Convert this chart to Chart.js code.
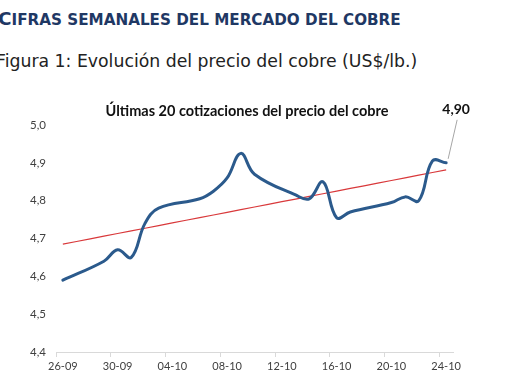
<!DOCTYPE html>
<html><head><meta charset="utf-8">
<script src="https://cdn.jsdelivr.net/npm/chart.js@4.4.1/dist/chart.umd.min.js"></script>
<style>
html,body{margin:0;padding:0;background:#fff;width:510px;height:382px;overflow:hidden;}
#h1{position:absolute;left:-2px;top:8px;font-family:"DejaVu Sans";font-weight:bold;color:#1f3864;font-size:15.2px;white-space:nowrap;}
#h1 .big{font-size:18.5px}
#h2{position:absolute;left:-4px;top:51px;font-family:"DejaVu Sans";font-size:17.3px;color:#222;white-space:nowrap;}
#wrap{position:absolute;left:0;top:0;width:510px;height:382px;}
</style></head><body>
<div id="h1"><span class="big">C</span>IFRAS SEMANALES DEL MERCADO DEL COBRE</div>
<div id="h2">Figura 1: Evolución del precio del cobre (US$/lb.)</div>
<div id="wrap"><canvas id="c" width="510" height="382"></canvas></div>
<script>
// Days from 26-09 to 24-10 (date axis); weekends have no quote
const dates = ['26-09','27-09','28-09','29-09','30-09','01-10','02-10','03-10','04-10','05-10',
  '06-10','07-10','08-10','09-10','10-10','11-10','12-10','13-10','14-10','15-10',
  '16-10','17-10','18-10','19-10','20-10','21-10','22-10','23-10','24-10'];
const prices = [4.59, null, null, 4.64, 4.67, 4.65, 4.74, 4.78, null, null,
  4.805, 4.825, 4.86, 4.925, 4.87, null, null, 4.815, 4.805, 4.85,
  4.755, 4.77, null, null, 4.795, 4.81, 4.80, 4.905, 4.90];
const yTicks = [4.4, 4.5, 4.6, 4.7, 4.8, 4.9, 5.0];
const chartTitle = 'Últimas 20 cotizaciones del precio del cobre';

// linear trendline (least squares over the date index)
const pts = prices.map((v, i) => [i, v]).filter(p => p[1] !== null);
const n = pts.length;
const mx = pts.reduce((s, p) => s + p[0], 0) / n;
const my = pts.reduce((s, p) => s + p[1], 0) / n;
const slope = pts.reduce((s, p) => s + (p[0] - mx) * (p[1] - my), 0) / pts.reduce((s, p) => s + (p[0] - mx) ** 2, 0);
const icpt = my - slope * mx;
const firstI = pts[0][0], lastI = pts[n - 1][0];
const trend = dates.map((_, i) => (i >= firstI && i <= lastI) ? icpt + slope * i : null);

const lastIdx = lastI;

const overlay = {
  id: 'overlay',
  afterDraw(chart) {
    const ctx = chart.ctx;
    ctx.save();
    ctx.fillStyle = '#111';
    ctx.font = 'bold 14.5px Lato';
    ctx.textAlign = 'center';
    ctx.textBaseline = 'middle';
    ctx.fillText(chartTitle, 247, 111);
    const p = chart.getDatasetMeta(0).data[lastIdx];
    ctx.strokeStyle = '#a6a6a6';
    ctx.lineWidth = 1;
    ctx.beginPath();
    ctx.moveTo(p.x + 2, p.y - 4);
    ctx.lineTo(p.x + 11, p.y - 43);
    ctx.stroke();
    ctx.font = 'bold 14px Lato';
    ctx.fillStyle = '#111';
    ctx.fillText(prices[lastIdx].toFixed(2).replace('.', ','), p.x + 10, p.y - 53);
    ctx.restore();
  }
};

new Chart(document.getElementById('c'), {
  type: 'line',
  data: {
    labels: dates,
    datasets: [
      { data: prices, borderColor: '#2b5a8c', borderWidth: 3, pointRadius: 0, tension: 0.4, spanGaps: true, fill: false, borderCapStyle: 'round' },
      { data: trend, borderColor: '#d9393b', borderWidth: 1.2, pointRadius: 0, tension: 0, spanGaps: true, fill: false }
    ]
  },
  options: {
    responsive: false,
    devicePixelRatio: 1,
    animation: false,
    layout: { padding: { top: 125, right: 57, left: 0, bottom: 0 } },
    plugins: { legend: { display: false }, tooltip: { enabled: false }, title: { display: false } },
    scales: {
      x: {
        type: 'category',
        offset: true,
        afterFit(s) { s.height = 30; },
        border: { display: true, color: '#d9d9d9', width: 1 },
        grid: {
          offset: true,
          drawOnChartArea: false,
          drawTicks: true,
          tickLength: 5,
          color: c => (c.index !== undefined && c.index % 4 === 0) ? '#d9d9d9' : 'rgba(0,0,0,0)'
        },
        ticks: {
          autoSkip: false, maxRotation: 0, minRotation: 0, padding: 3,
          color: '#404040', font: { family: 'Lato', size: 11 },
          callback: (v, i) => i % 4 === 0 ? dates[i] : ''
        }
      },
      y: {
        min: yTicks[0], max: yTicks[yTicks.length - 1],
        afterFit(s) { s.width = 56; },
        afterBuildTicks(s) { s.ticks = yTicks.map(v => ({ value: v })); },
        border: { display: false },
        grid: { display: false, drawTicks: false },
        ticks: {
          padding: 10,
          color: '#404040', font: { family: 'Lato', size: 11.5 },
          callback: v => Number(v).toFixed(1).replace('.', ',')
        }
      }
    }
  },
  plugins: [overlay]
});
</script>
</body></html>
